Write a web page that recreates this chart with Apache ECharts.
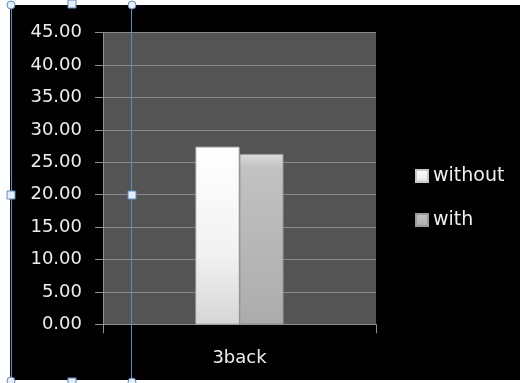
<!DOCTYPE html>
<html>
<head>
<meta charset="utf-8">
<script src="https://cdn.jsdelivr.net/npm/echarts@6/dist/echarts.min.js"></script>
<style>
html,body{margin:0;padding:0;background:#fff;}
#c{width:520px;height:383px;}
</style>
</head>
<body>
<div id="c"></div>
<script>
const categories = ['3back'];
const seriesNames = ['without', 'with'];
const withoutValues = [27.4];
const withValues = [26.3];
const yTickLabels = ['0.00','5.00','10.00','15.00','20.00','25.00','30.00','35.00','40.00','45.00'];

const chart = echarts.init(document.getElementById('c'), null, {renderer: 'canvas'});
const FONT = 'DejaVu Sans';
const blue = '#5a8cc4';

function handleSq(x, y) {
  return {type: 'rect', shape: {x: x - 4, y: y - 4, width: 8, height: 8},
    style: {fill: '#e3eefa', stroke: blue, lineWidth: 1}, z: 100};
}
function handleCirc(x, y) {
  return {type: 'circle', shape: {cx: x, cy: y, r: 4},
    style: {fill: '#e3eefa', stroke: blue, lineWidth: 1}, z: 100};
}

chart.setOption({
  backgroundColor: '#ffffff',
  animation: false,
  graphic: [
    {type: 'rect', shape: {x: 10, y: 5, width: 510, height: 375}, style: {fill: '#000'}, z: -10, silent: true},
    {type: 'line', shape: {x1: 11.5, y1: 5, x2: 11.5, y2: 381}, style: {stroke: blue, lineWidth: 1}, z: 99},
    {type: 'line', shape: {x1: 131.5, y1: 5, x2: 131.5, y2: 383}, style: {stroke: blue, lineWidth: 1}, z: 99},
    handleCirc(11, 5), handleSq(72, 4), handleCirc(132, 5),
    handleSq(11, 195), handleSq(132, 195),
    handleCirc(11, 381), handleSq(72, 382), handleCirc(132, 382)
  ],
  grid: {
    left: 103, right: 144, top: 32.7, bottom: 58.7,
    show: true, backgroundColor: '#545454', borderWidth: 0
  },
  legend: {
    orient: 'vertical',
    left: 410, top: 161,
    icon: 'rect',
    itemWidth: 12, itemHeight: 12,
    itemGap: 24,
    textStyle: {color: '#eeeeee', fontFamily: FONT, fontSize: 19, lineHeight: 20},
    data: seriesNames
  },
  xAxis: {
    type: 'category',
    data: categories,
    axisLine: {lineStyle: {color: '#8f8f8f', width: 1}},
    axisTick: {show: true, length: 9, lineStyle: {color: '#8f8f8f'}},
    axisLabel: {color: '#eeeeee', fontFamily: FONT, fontSize: 18, margin: 25}
  },
  yAxis: {
    type: 'value',
    min: 0, max: 45, interval: 5,
    axisLine: {show: true, lineStyle: {color: '#8f8f8f', width: 1}},
    axisTick: {show: true, length: 8, lineStyle: {color: '#8f8f8f'}},
    axisLabel: {
      color: '#eeeeee', fontFamily: FONT, fontSize: 18, margin: 21,
      formatter: function (v) { return yTickLabels[Math.round(v / 5)]; }
    },
    splitLine: {show: true, lineStyle: {color: '#8a8a8a', width: 1}}
  },
  series: [
    {
      name: seriesNames[0], type: 'bar', data: withoutValues,
      barWidth: 44, barGap: '0%',
      itemStyle: {
        color: new echarts.graphic.LinearGradient(0, 0, 0, 1, [
          {offset: 0, color: '#ffffff'},
          {offset: 0.6, color: '#f2f2f2'},
          {offset: 1, color: '#d6d6d6'}
        ]),
        borderColor: '#c8c8c8', borderWidth: 1
      }
    },
    {
      name: seriesNames[1], type: 'bar', data: withValues,
      barWidth: 44,
      itemStyle: {
        color: new echarts.graphic.LinearGradient(0, 0, 0, 1, [
          {offset: 0, color: '#dcdcdc'},
          {offset: 0.08, color: '#c2c2c2'},
          {offset: 1, color: '#acacac'}
        ]),
        borderColor: '#9a9a9a', borderWidth: 1
      }
    }
  ]
});
</script>
</body>
</html>
